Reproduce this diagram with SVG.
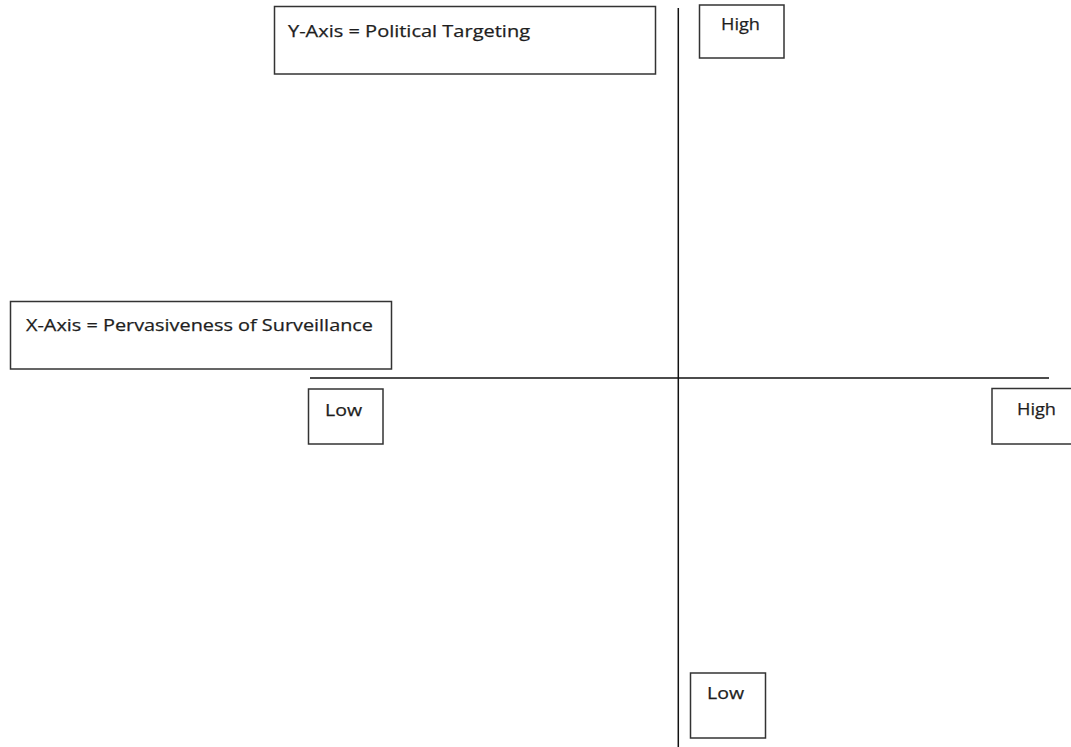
<svg xmlns="http://www.w3.org/2000/svg" width="1071" height="747" viewBox="0 0 1071 747">
<style>
.box{fill:#fff;stroke:#333;stroke-width:1.5}
.axis{stroke:#111;stroke-width:1.5;fill:none}
text{font-family:"Open Sans","Liberation Sans",sans-serif;font-size:17px;fill:#1e1e1e;stroke:#1e1e1e;stroke-width:0.25}
</style>
<rect width="1071" height="747" fill="#fff"/>
<g id="connectors">
<line class="axis" x1="678.3" y1="8" x2="678.3" y2="747"/>
<line class="axis" x1="310" y1="378" x2="1049" y2="378"/>
</g>
<g id="y-axis-label">
<rect class="box" x="274.5" y="6.5" width="381" height="67.5"/>
<text x="288" y="37" textLength="242" lengthAdjust="spacingAndGlyphs">Y-Axis = Political Targeting</text>
</g>
<g id="x-axis-label">
<rect class="box" x="10.5" y="301.5" width="381" height="67.5"/>
<text x="26" y="331" textLength="347" lengthAdjust="spacingAndGlyphs">X-Axis = Pervasiveness of Surveillance</text>
</g>
<g id="y-high">
<rect class="box" x="699.5" y="5" width="84.5" height="53"/>
<text x="721" y="30" textLength="39" lengthAdjust="spacingAndGlyphs">High</text>
</g>
<g id="y-low">
<rect class="box" x="690.5" y="673" width="75" height="65"/>
<text x="707" y="698.5" textLength="37" lengthAdjust="spacingAndGlyphs">Low</text>
</g>
<g id="x-low">
<rect class="box" x="308.5" y="389" width="74.5" height="55"/>
<text x="325" y="415.5" textLength="37" lengthAdjust="spacingAndGlyphs">Low</text>
</g>
<g id="x-high">
<rect class="box" x="992" y="388.5" width="85" height="55.5"/>
<text x="1017" y="415" textLength="39" lengthAdjust="spacingAndGlyphs">High</text>
</g>
</svg>
